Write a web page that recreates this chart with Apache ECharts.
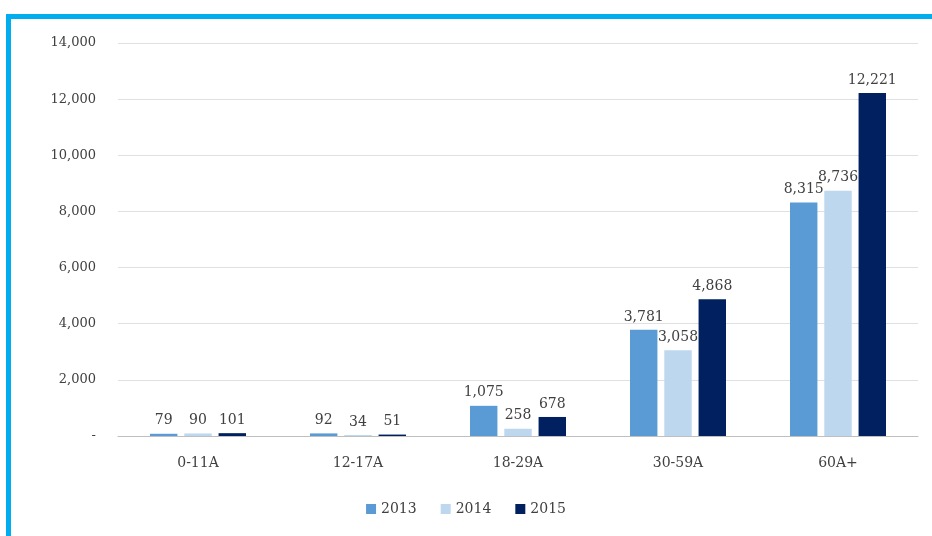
<!DOCTYPE html>
<html>
<head>
<meta charset="utf-8">
<script src="https://cdn.jsdelivr.net/npm/echarts@6/dist/echarts.min.js"></script>
<style>
  html, body { margin: 0; padding: 0; background: #fff; }
  #frame { position: absolute; left: 6px; top: 14px; right: 0; bottom: 0;
           border-top: 5px solid #00AEEF; border-left: 5px solid #00AEEF; }
  #container { position: absolute; left: 0; top: 0; width: 932px; height: 536px; }
</style>
</head>
<body>
<div id="frame"></div>
<div id="container"></div>
<script>
// age groups and yearly counts
var categories = ['0-11A', '12-17A', '18-29A', '30-59A', '60A+'];
var years = ['2013', '2014', '2015'];
var values2013 = [79, 92, 1075, 3781, 8315];
var values2014 = [90, 34, 258, 3058, 8736];
var values2015 = [101, 51, 678, 4868, 12221];
var colors = ['#5B9BD5', '#BDD7EE', '#002060'];
var yTicks = { min: 0, max: 14000, interval: 2000 };

var font = 'DejaVu Serif';
var fmt = function (v) { return v.toLocaleString('en-US'); };

var dom = document.getElementById('container');
var myChart = echarts.init(dom);

var makeSeries = function (name, data, i) {
    return {
        name: name,
        type: 'bar',
        data: data,
        barGap: '25%',
        barCategoryGap: '40%',
        itemStyle: { color: colors[i] },
        label: {
            show: true,
            position: 'top',
            distance: 6,
            fontFamily: font,
            fontSize: 14,
            color: '#404040',
            formatter: function (p) { return fmt(p.value); }
        }
    };
};

var option = {
    animation: false,
    textStyle: { fontFamily: font },
    grid: { left: 118, right: 14, top: 43, bottom: 100 },
    legend: {
        bottom: 15,
        left: 'center',
        itemWidth: 10,
        itemHeight: 10,
        itemGap: 24,
        icon: 'rect',
        textStyle: { fontFamily: font, fontSize: 14, color: '#404040' },
        data: years
    },
    xAxis: {
        type: 'category',
        data: categories,
        axisTick: { show: false },
        axisLine: { lineStyle: { color: '#bfbfbf' } },
        axisLabel: { fontFamily: font, fontSize: 14, color: '#404040', margin: 20 }
    },
    yAxis: {
        type: 'value',
        min: yTicks.min,
        max: yTicks.max,
        interval: yTicks.interval,
        axisLine: { show: false },
        axisTick: { show: false },
        splitLine: { lineStyle: { color: '#e0e0e0' } },
        axisLabel: {
            fontFamily: font, fontSize: 13, color: '#404040', margin: 22,
            formatter: function (v) { return v === 0 ? '-' : fmt(v); }
        }
    },
    series: [
        makeSeries(years[0], values2013, 0),
        makeSeries(years[1], values2014, 1),
        makeSeries(years[2], values2015, 2)
    ]
};
myChart.setOption(option, true);
</script>
</body>
</html>
